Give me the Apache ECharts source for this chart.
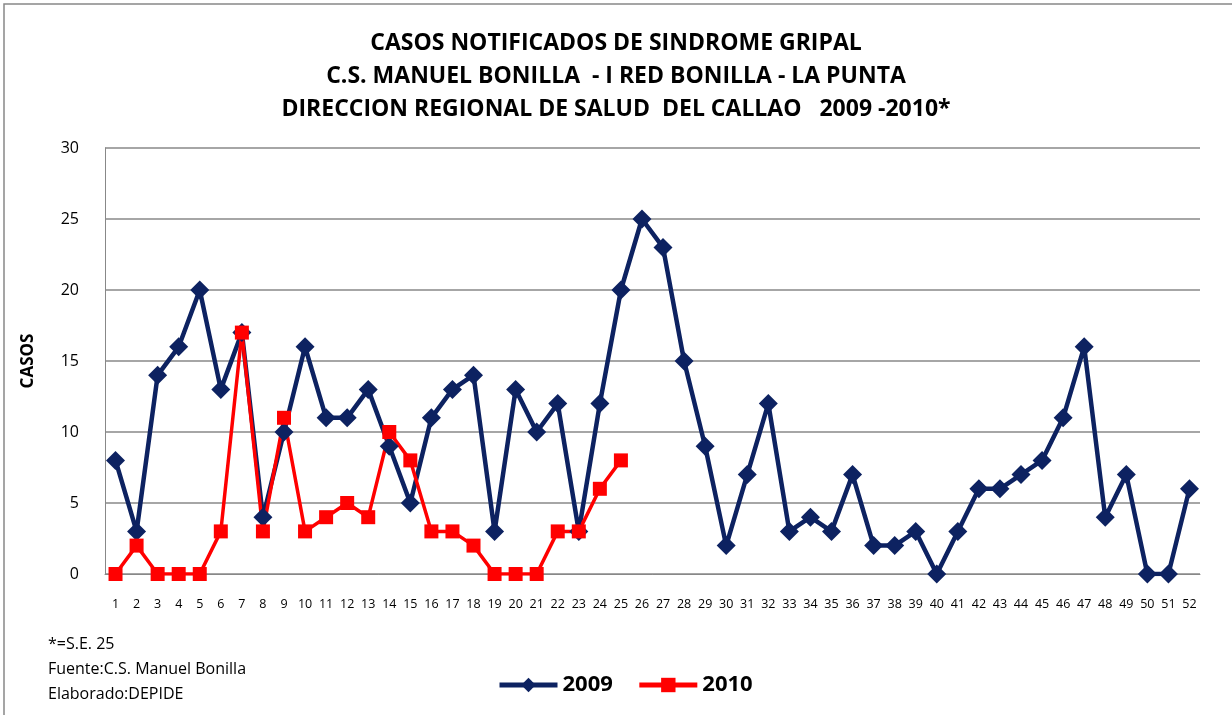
<!DOCTYPE html>
<html><head><meta charset="utf-8">
<script src="https://cdn.jsdelivr.net/npm/echarts@6/dist/echarts.min.js"></script>
<style>html,body{margin:0;padding:0;background:#fff}#c{width:1232px;height:715px}</style>
</head><body><div id="c"></div>
<script>
const weeks = Array.from({length:52},(_,i)=>String(i+1));
const s2009 = [8,3,14,16,20,13,17,4,10,16,11,11,13,9,5,11,13,14,3,13,10,12,3,12,20,25,23,15,9,2,7,12,3,4,3,7,2,2,3,0,3,6,6,7,8,11,16,4,7,0,0,6];
const s2010 = [0,2,0,0,0,3,17,3,11,3,4,5,4,10,8,3,3,2,0,0,0,3,3,6,8];
const titleLines = ['CASOS NOTIFICADOS DE SINDROME GRIPAL','C.S. MANUEL BONILLA  - I RED BONILLA - LA PUNTA','DIRECCION REGIONAL DE SALUD  DEL CALLAO   2009 -2010*'];
const notes = ['*=S.E. 25','Fuente:C.S. Manuel Bonilla','Elaborado:DEPIDE'];
const F = "'Open Sans',sans-serif";
const chart = echarts.init(document.getElementById('c'));
chart.setOption({
  animation:false,
  graphic:[
    {type:'rect',shape:{x:4,y:4,width:1240,height:720},style:{fill:'none',stroke:'#888',lineWidth:1.5}},
    ...titleLines.map((t,i)=>({type:'text',left:'center',top:32+i*33,style:{text:t,font:"bold 23px "+F,fill:'#000'}})),
    ...notes.map((t,i)=>({type:'text',left:48,top:636+i*25,style:{text:t,font:"16px "+F,fill:'#000'}}))
  ],
  grid:{left:105,right:32,top:148,bottom:141,containLabel:false},
  legend:{left:492,top:669,itemWidth:58,itemHeight:18,itemGap:24,
    lineStyle:{width:5},
    textStyle:{fontFamily:F,fontWeight:'bold',fontSize:22,color:'#000'},
    data:['2009','2010']},
  xAxis:{type:'category',data:weeks,boundaryGap:true,
    axisLine:{lineStyle:{color:'#888'}},axisTick:{show:false},
    axisLabel:{interval:0,fontSize:12.5,color:'#000',margin:24,fontFamily:F}},
  yAxis:{type:'value',min:0,max:30,interval:5,name:'CASOS',nameLocation:'middle',nameGap:68,
    nameTextStyle:{fontWeight:'bold',fontSize:17,color:'#000',fontFamily:F},
    axisLine:{show:true,lineStyle:{color:'#888'}},axisTick:{show:false},
    axisLabel:{fontSize:16,color:'#000',margin:26,fontFamily:F},
    splitLine:{lineStyle:{color:'#888',width:1.5}}},
  series:[
    {name:'2009',type:'line',data:s2009,symbol:'diamond',symbolSize:19,
      lineStyle:{color:'#0D2261',width:4.5},itemStyle:{color:'#0D2261'}},
    {name:'2010',type:'line',data:s2010,symbol:'rect',symbolSize:14,
      lineStyle:{color:'#FF0000',width:3.5},itemStyle:{color:'#FF0000'}}
  ]
});
</script></body></html>
